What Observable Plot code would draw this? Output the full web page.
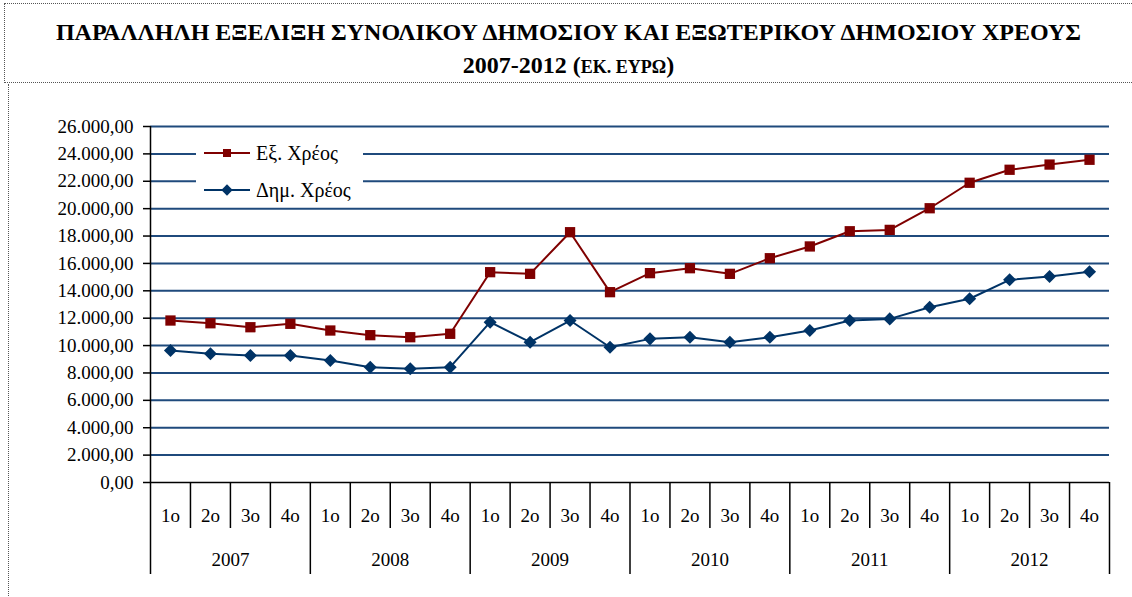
<!DOCTYPE html>
<html>
<head>
<meta charset="utf-8">
<script src="https://cdn.jsdelivr.net/npm/d3@7"></script>
<script src="https://cdn.jsdelivr.net/npm/@observablehq/plot@0.6"></script>
<style>
  html, body { margin: 0; padding: 0; background: #fff; }
  #wrap { position: relative; width: 1132px; height: 597px; overflow: hidden; font-family: "Times New Roman", "Liberation Serif", Tinos, "DejaVu Serif", "Noto Serif", serif; }
  #title { position: absolute; left: 4px; top: 3px; width: 1128px; height: 80px; border-top: 1px dotted #555; border-bottom: 1px dotted #555; border-left: 1px dotted #555; box-sizing: border-box; text-align: center; font-weight: bold; font-size: 24px; line-height: 33px; padding-top: 12px; color: #000; }
  #title .sm { font-size: 18px; }
  #frame { position: absolute; left: 8px; top: 84px; height: 520px; border-left: 1px dotted #555; }
  #chart { position: absolute; left: 0; top: 86px; }
  #legend { position: absolute; left: 196px; top: 137px; width: 167px; height: 62px; background: #fff; font-size: 20px; color: #000; }
  #legend .row { position: absolute; left: 8px; height: 24px; display: flex; align-items: center; }
  #legend svg { margin-right: 6px; }
</style>
</head>
<body>
<div id="wrap">
  <div id="title">ΠΑΡΑΛΛΗΛΗ ΕΞΕΛΙΞΗ ΣΥΝΟΛΙΚΟΥ ΔΗΜΟΣΙΟΥ ΚΑΙ ΕΞΩΤΕΡΙΚΟΥ ΔΗΜΟΣΙΟΥ ΧΡΕΟΥΣ<br>2007-2012 (<span class="sm">ΕΚ. ΕΥΡΩ</span>)</div>
  <div id="frame"></div>
  <div id="chart"></div>
  <div id="legend"></div>
</div>
<script>
// ---- data ----
const years = ["2007", "2008", "2009", "2010", "2011", "2012"];
const quarters = ["1ο", "2ο", "3ο", "4ο"];
const seriesNames = ["Εξ. Χρέος", "Δημ. Χρέος"];
const seriesColors = ["#7f0000", "#003366"];
const externalDebt = [
  11830, 11630, 11340, 11590,
  11100, 10760, 10610, 10860,
  15360, 15240, 18280, 13900,
  15290, 15650, 15240, 16380,
  17240, 18350, 18450, 20030,
  21890, 22840, 23220, 23570
];
const publicDebt = [
  9640, 9400, 9275, 9275,
  8910, 8420, 8300, 8420,
  11710, 10250, 11830, 9880,
  10490, 10610, 10250, 10610,
  11100, 11830, 11950, 12800,
  13420, 14800, 15040, 15390
];
const yTicks = d3.range(0, 26001, 2000);

// ---- build table ----
const n = years.length * quarters.length;
const rows = [];
for (let i = 0; i < n; i++) {
  rows.push({i: i + 0.5, s: seriesNames[0], v: externalDebt[i]});
}
for (let i = 0; i < n; i++) {
  rows.push({i: i + 0.5, s: seriesNames[1], v: publicDebt[i]});
}
const centers = d3.range(n).map(i => i + 0.5);
const quarterBounds = d3.range(1, n).filter(i => i % 4 !== 0);
const yearBounds = d3.range(0, n + 1, 4);
const yearCenters = years.map((y, k) => k * 4 + 2);

const loc = d3.formatLocale({decimal: ",", thousands: ".", grouping: [3], currency: ["", ""]});
const fmt = loc.format(",.2f");

const black = "#000";
const grid = "#1f4a7c";
const serif = "'Times New Roman', 'Liberation Serif', Tinos, 'DejaVu Serif', 'Noto Serif', serif";

const plot = Plot.plot({
  width: 1132,
  height: 509,
  marginLeft: 150,
  marginRight: 23,
  marginTop: 40,
  marginBottom: 113,
  style: {fontFamily: serif, fontSize: "19px", color: "#000", background: "transparent"},
  x: {type: "linear", domain: [0, n], axis: null},
  y: {domain: [0, 26000], axis: null},
  marks: [
    Plot.ruleY(yTicks.filter(t => t > 0), {stroke: grid, strokeWidth: 2}),
    // y axis
    Plot.axisY({ticks: yTicks, tickFormat: fmt, tickSize: 7, tickPadding: 10, stroke: black, strokeWidth: 1.5, fontSize: 19, fontFamily: serif, fill: "#000", label: null}),
    // x axis boundaries
    Plot.axisX({ticks: quarterBounds, tickFormat: () => "", tickSize: 46, stroke: black, strokeWidth: 1.5, label: null}),
    Plot.axisX({ticks: yearBounds, tickFormat: () => "", tickSize: 92, stroke: black, strokeWidth: 1.5, label: null}),
    Plot.axisX({ticks: centers, tickFormat: (d) => quarters[Math.floor(d) % 4], tickSize: 0, tickPadding: 26, fontSize: 19, fontFamily: serif, fill: "#000", label: null}),
    Plot.axisX({ticks: yearCenters, tickFormat: (d) => years[(d - 2) / 4], tickSize: 0, tickPadding: 70, fontSize: 19, fontFamily: serif, fill: "#000", label: null}),
    Plot.ruleY([0], {stroke: black, strokeWidth: 1.5}),
    Plot.ruleX([0], {stroke: black, strokeWidth: 1.5}),
    // series
    Plot.line(rows, {x: "i", y: "v", z: "s", stroke: d => d.s === seriesNames[0] ? seriesColors[0] : seriesColors[1], strokeWidth: 2}),
    Plot.dot(rows.filter(d => d.s === seriesNames[0]), {x: "i", y: "v", symbol: "square", r: 5.8, fill: seriesColors[0], stroke: "none"}),
    Plot.dot(rows.filter(d => d.s === seriesNames[1]), {x: "i", y: "v", symbol: "square", rotate: 45, r: 5.2, fill: seriesColors[1], stroke: "none"})
  ]
});
document.getElementById("chart").appendChild(plot);

// ---- legend ----
const legend = d3.select("#legend");
seriesNames.forEach((name, k) => {
  const row = legend.append("div").attr("class", "row").style("top", (k === 0 ? 4 : 41) + "px");
  const sw = row.append("svg").attr("width", 46).attr("height", 14);
  sw.append("line").attr("x1", 0).attr("x2", 46).attr("y1", 7).attr("y2", 7).attr("stroke", seriesColors[k]).attr("stroke-width", 2);
  if (k === 0) {
    sw.append("rect").attr("x", 19).attr("y", 3).attr("width", 8).attr("height", 8).attr("fill", seriesColors[k]);
  } else {
    sw.append("rect").attr("x", 19).attr("y", 3).attr("width", 8).attr("height", 8).attr("fill", seriesColors[k]).attr("transform", "rotate(45 23 7)");
  }
  row.append("span").text(name);
});
</script>
</body>
</html>
